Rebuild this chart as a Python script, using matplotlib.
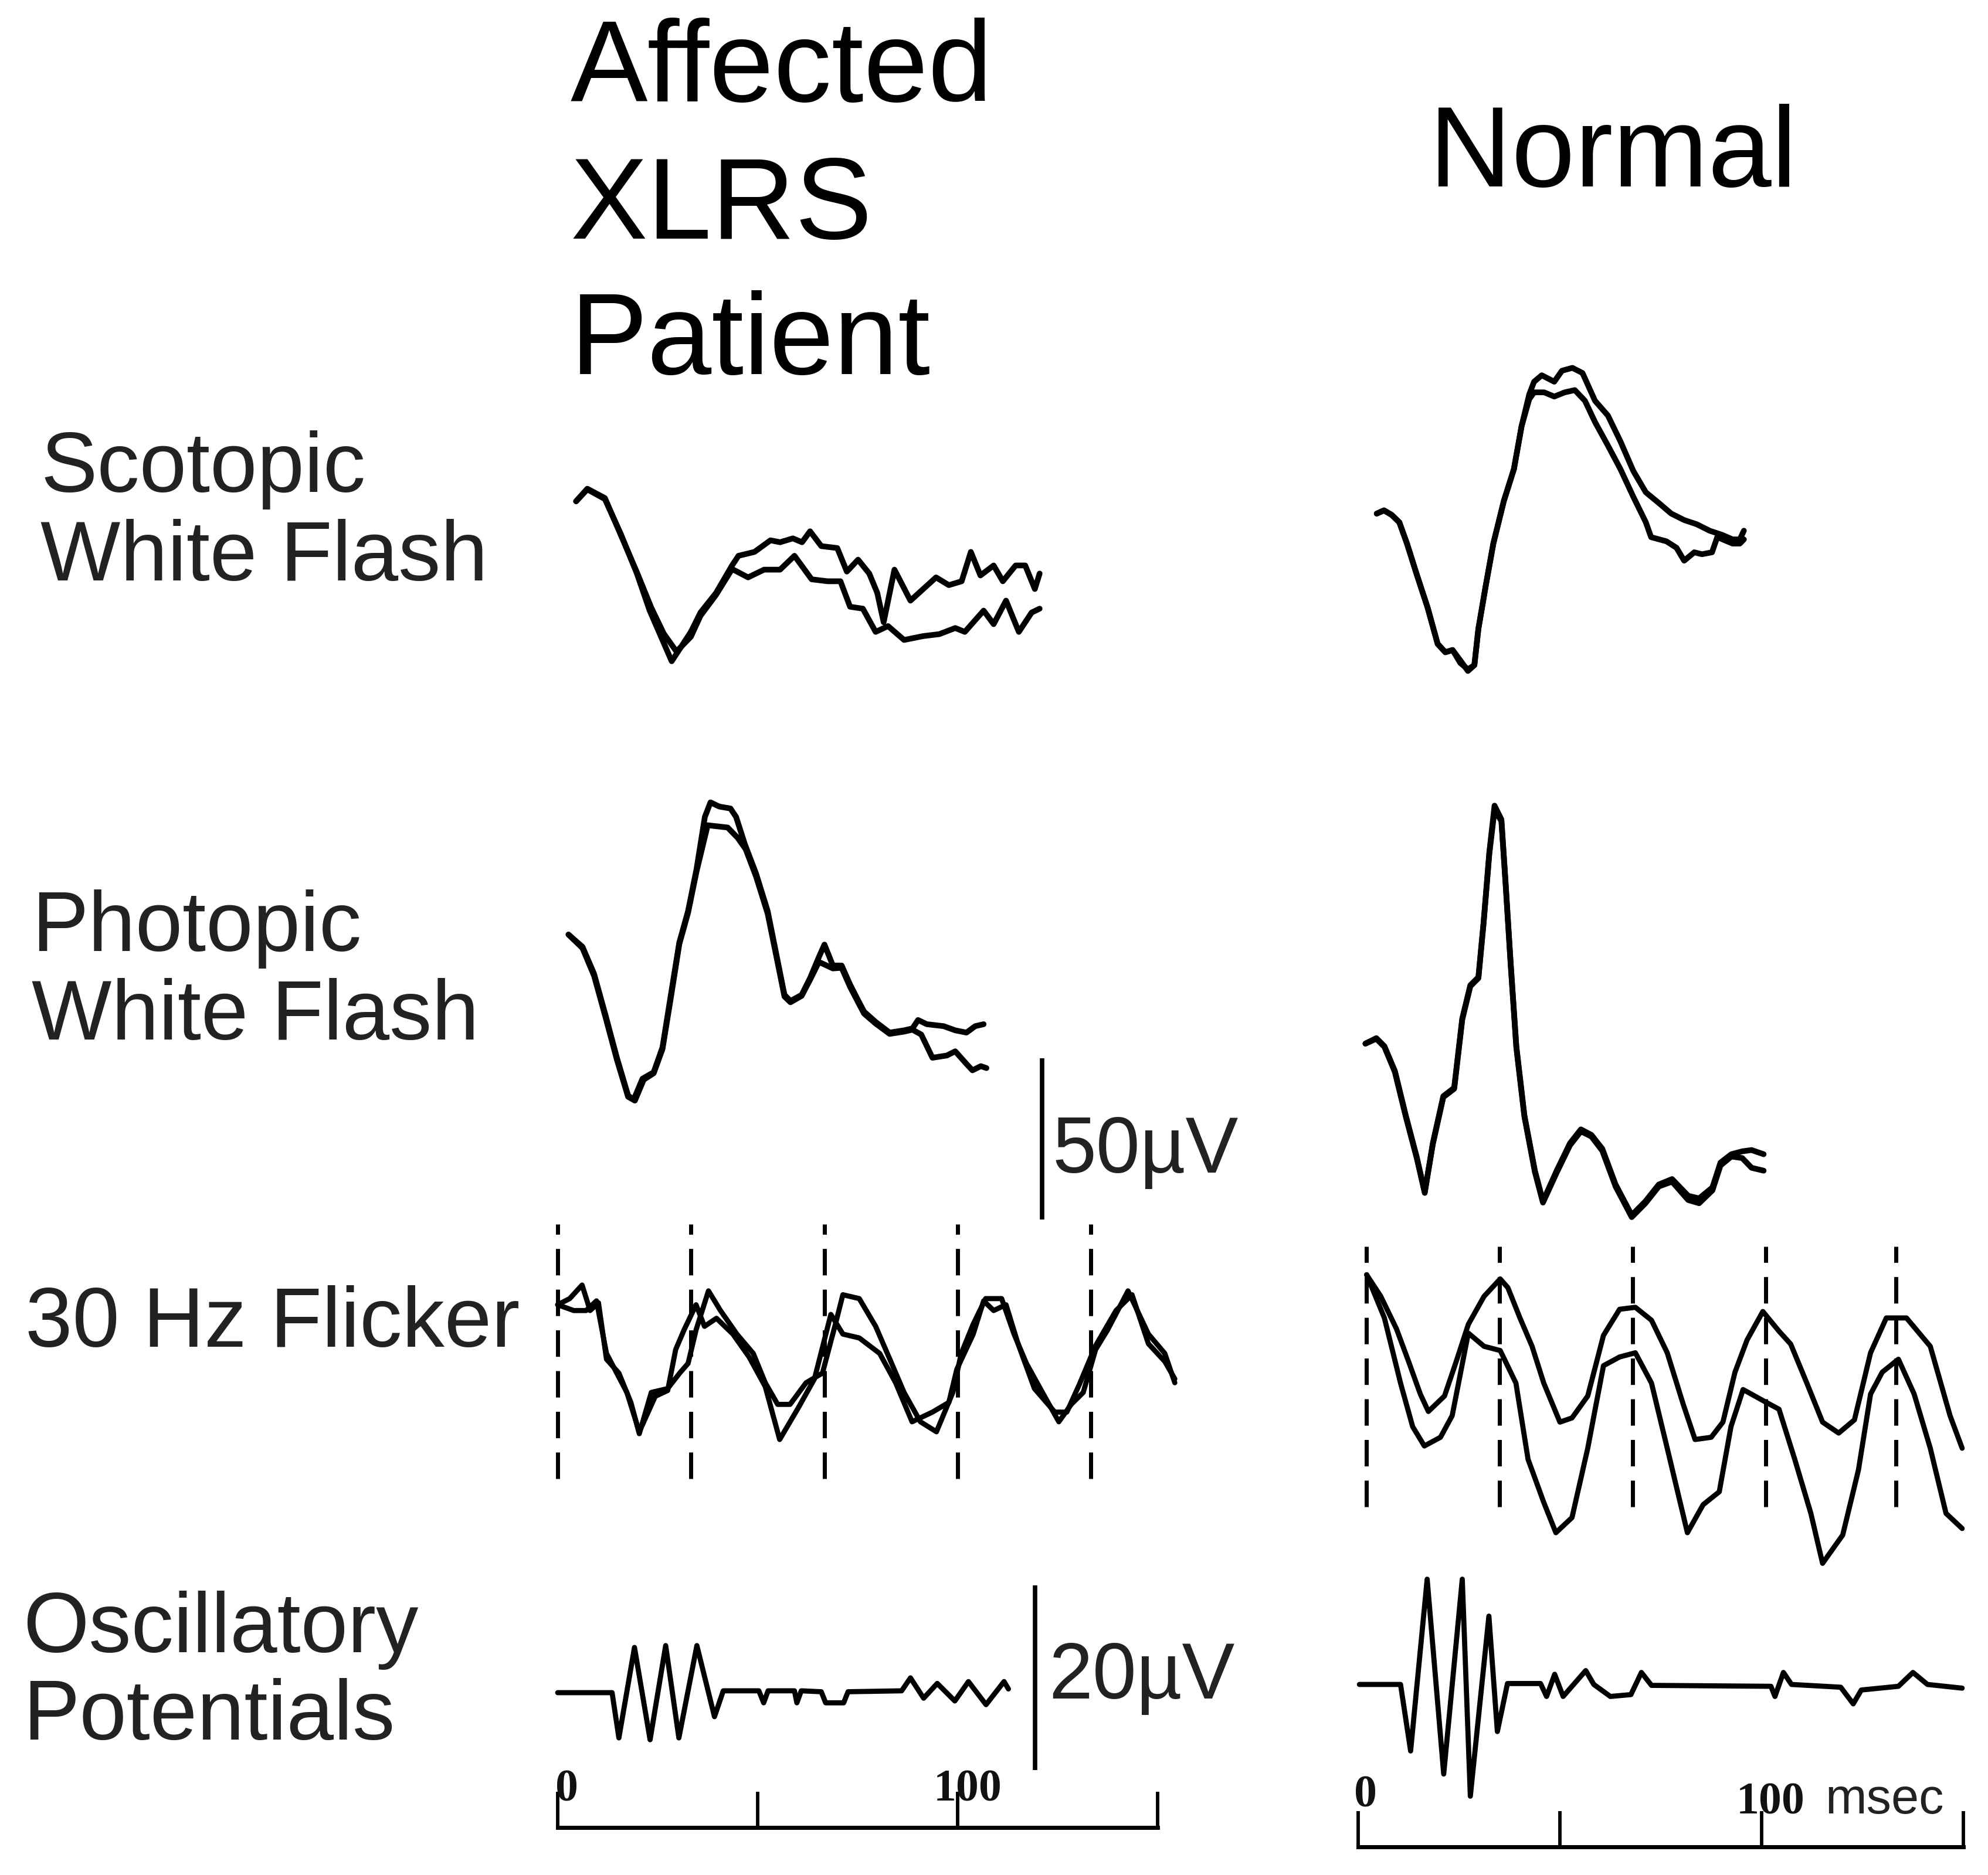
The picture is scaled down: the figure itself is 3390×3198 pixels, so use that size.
import matplotlib
matplotlib.use("Agg")
import matplotlib.pyplot as plt

# ---- data (time in ms, amplitude in microvolts) ----

# scotopic white flash, affected patient (two overlaid responses)
scot_aff_t1 = [4.6, 7.4, 11.8, 15.8, 19.8, 23.0, 28.5, 33.3, 35.7, 39.6, 43.6, 45.2, 49.2, 53.2, 55.6, 58.8, 61.1, 63.1, 65.9, 69.9,
               72.3, 75.1, 77.9, 79.9, 81.5, 84.2, 88.2, 91.4, 94.6, 97.8, 101.0, 103.3, 105.7, 109.0, 111.3, 114.5, 116.9, 119.3, 120.5]
scot_aff_v1 = [0, 3.7, 0.7, -10.2, -22.4, -33.9, -49.6, -40.5, -34.5, -28.4, -19.9, -16.9, -15.7, -12.1, -12.7, -11.5, -12.7, -9.3, -13.9, -14.5,
               -21.8, -18.1, -22.4, -28.4, -37.5, -21.2, -30.8, -27.2, -23.6, -26.0, -24.8, -15.7, -23.0, -19.9, -24.8, -19.9, -19.9, -27.2, -22.4]
scot_aff_t2 = [4.6, 7.4, 11.8, 15.8, 19.8, 23.4, 26.5, 29.7, 33.3, 35.7, 39.6, 43.6, 47.6, 51.6, 55.6, 59.2, 63.5, 67.5, 70.7, 73.1,
               76.3, 79.5, 82.6, 86.6, 91.4, 95.4, 99.4, 101.8, 106.5, 109.0, 112.1, 115.3, 118.5, 120.5]
scot_aff_v2 = [0, 3.9, 1.0, -10.5, -22.0, -33.0, -41.0, -46.6, -42.0, -35.5, -29.0, -21.0, -23.6, -21.2, -21.2, -16.9, -24.2, -24.8, -24.8, -32.7,
               -33.3, -40.5, -38.7, -43.0, -41.8, -41.2, -39.3, -40.5, -33.9, -38.1, -30.8, -40.5, -34.5, -33.3]

# scotopic white flash, normal
scot_nor_t1 = [4.6, 6.4, 8.3, 10.2, 12.1, 14.6, 17.2, 19.7, 21.6, 23.4, 25.3, 27.2, 28.8, 29.8, 31.6, 33.5, 36.1, 38.6, 40.5, 42.4,
               43.6, 45.5, 48.6, 50.5, 53.1, 55.6, 58.7, 61.9, 65.0, 68.2, 71.3, 74.5, 77.6, 80.8, 83.9, 87.1, 90.2, 92.8, 94.6, 95.6]
scot_nor_v1 = [0, 1.0, -0.4, -2.7, -9.3, -19.2, -29.1, -40.4, -43.0, -42.3, -46.3, -48.3, -47.0, -35.7, -22.5, -9.3, 3.9, 13.8, 27.1, 37.0,
               40.9, 42.9, 40.9, 44.3, 45.2, 43.6, 35.0, 30.4, 22.4, 13.2, 6.6, 3.3, 0.0, -2.0, -3.3, -5.3, -6.6, -8.0, -8.0, -5.3]
scot_nor_t2 = [4.6, 6.4, 8.3, 10.2, 12.1, 14.6, 17.2, 19.7, 21.6, 23.4, 25.3, 27.2, 28.8, 29.8, 31.6, 33.5, 36.1, 38.6, 40.5, 42.4,
               43.6, 46.1, 48.6, 51.2, 53.7, 56.2, 58.7, 61.9, 65.0, 68.2, 71.3, 72.6, 76.4, 78.9, 80.8, 83.3, 85.2, 87.7, 89.0, 92.8, 94.6, 95.6]
scot_nor_v2 = [0, 1.0, -0.4, -2.7, -9.3, -19.2, -29.1, -40.4, -43.0, -42.3, -45.5, -48.8, -47.0, -35.7, -22.5, -9.3, 3.9, 13.8, 27.1, 35.5,
               37.6, 37.6, 36.3, 37.6, 38.3, 35.0, 28.4, 21.1, 13.8, 5.2, -2.7, -7.3, -8.6, -10.6, -14.6, -12.0, -12.6, -12.0, -7.3, -9.3, -9.3, -8.0]

# photopic white flash, affected patient
phot_aff_t1 = [2.7, 6.2, 9.1, 12.0, 14.8, 17.6, 19.0, 21.2, 24.0, 26.2, 28.3, 30.4, 32.6, 34.7, 36.8, 38.2, 40.4, 43.2, 44.6, 46.8,
               49.6, 52.5, 54.6, 56.7, 58.2, 61.0, 63.1, 65.3, 66.7, 68.8, 71.0, 73.1, 75.2, 76.6, 79.5, 83.0, 86.6, 88.7, 90.1, 92.3,
               96.5, 99.4, 102.2, 104.4, 106.5]
phot_aff_v1 = [0, -3.8, -12.2, -25.2, -38.2, -49.9, -51.2, -44.7, -42.7, -35.0, -18.7, -2.5, 7.3, 20.2, 36.5, 41.0, 39.7, 39.1, 36.5, 28.0,
               18.9, 7.3, -5.7, -18.7, -20.6, -18.7, -13.5, -7.0, -3.1, -9.6, -9.6, -15.5, -20.6, -23.9, -27.1, -30.4, -29.7, -29.1, -26.5, -27.8,
               -28.4, -29.7, -30.4, -28.4, -27.8]
phot_aff_t2 = [2.7, 6.2, 9.1, 12.0, 14.8, 17.6, 19.3, 21.5, 24.0, 26.2, 28.3, 30.4, 32.6, 34.7, 37.5, 42.5, 45.0, 47.0, 49.6, 52.5,
               54.6, 56.7, 58.2, 61.0, 63.1, 65.3, 66.2, 68.8, 71.0, 73.1, 75.2, 76.6, 79.5, 83.0, 86.6, 88.7, 90.9, 93.7, 97.3, 99.4,
               102.2, 103.7, 105.8, 107.2]
phot_aff_v2 = [0, -4.2, -12.8, -25.8, -38.8, -50.3, -51.5, -45.0, -43.0, -35.5, -19.5, -3.0, 6.8, 19.5, 33.9, 33.2, 30.0, 26.5, 18.0, 6.5,
               -6.3, -19.2, -21.0, -19.0, -14.0, -8.5, -9.0, -10.5, -10.3, -16.2, -21.2, -24.5, -27.6, -30.8, -30.1, -29.5, -31.0, -38.2, -37.5, -36.2,
               -40.1, -42.1, -40.8, -41.4]

# photopic white flash, normal
phot_nor_t = [1.8, 4.5, 6.5, 9.1, 11.8, 14.5, 16.5, 18.5, 21.1, 23.8, 25.8, 27.8, 29.8, 31.1, 32.5, 33.8, 35.5, 36.5, 37.8, 39.2,
              41.2, 43.8, 45.8, 49.2, 52.5, 55.2, 57.8, 60.5, 63.8, 67.8, 71.2, 74.5, 77.8, 81.8, 84.5, 87.8, 89.8, 92.5, 95.2, 97.5, 100.5]
phot_nor_v1 = [0, 1.7, -0.8, -8.5, -22.3, -35.1, -46.3, -30.9, -16.3, -13.7, 7.8, 18.1, 20.6, 37.8, 59.2, 73.8, 69.5, 50.7, 24.9, -0.8,
               -22.3, -39.4, -48.9, -39.4, -30.9, -26.6, -28.3, -32.6, -43.7, -53.2, -48.9, -43.7, -42.0, -47.2, -48.0, -44.6, -36.9, -34.3, -33.4, -33.0, -34.3]
phot_nor_v2 = [0, 1.5, -1.0, -8.8, -22.6, -35.4, -46.0, -31.2, -16.6, -14.0, 7.5, 17.8, 20.3, 37.5, 58.8, 72.5, 69.0, 50.2, 24.5, -1.2,
               -22.6, -39.8, -49.3, -40.0, -31.5, -27.2, -28.8, -33.2, -44.3, -53.8, -49.5, -44.3, -42.8, -48.5, -49.5, -45.5, -37.8, -35.0, -35.5, -38.5, -39.4]

# 30 Hz flicker, affected patient
flk_aff_t1 = [0, 3.0, 6.1, 8.1, 10.2, 12.2, 15.3, 18.3, 20.4, 23.4, 27.5, 30.5, 32.6, 34.6, 37.7, 40.7, 44.8, 48.9, 51.9, 55.0,
              58.1, 62.1, 66.2, 69.3, 71.3, 75.4, 79.5, 83.5, 86.6, 90.7, 94.7, 98.8, 100.9, 103.9, 107.0, 111.0, 114.1, 117.2, 121.2, 125.3,
              128.4, 131.4, 134.5, 137.5, 142.6, 147.7, 151.8, 154.3]
flk_aff_v1 = [10.3, 12.2, 16.4, 8.5, 10.9, -6.6, -10.9, -20.0, -29.7, -16.9, -15.7, -10.9, -7.9, 2.5, 14.6, 8.5, 1.2, -4.8, -13.9, -20.6,
              -20.6, -13.9, -10.9, 3.6, 13.4, 12.2, 3.6, -7.9, -16.9, -26.0, -29.1, -16.9, -4.8, 4.3, 12.2, 12.2, 1.2, -7.9, -16.9, -26.0,
              -20.6, -16.9, -3.6, 2.5, 14.6, 1.2, -4.8, -13.9]
flk_aff_t2 = [0, 4.0, 7.1, 9.7, 12.2, 17.3, 20.4, 24.4, 27.5, 29.5, 31.6, 34.6, 36.7, 39.7, 43.8, 47.9, 51.9, 55.5, 60.1, 64.2,
              68.3, 71.3, 75.4, 80.5, 84.5, 88.6, 93.7, 97.8, 99.8, 103.9, 106.5, 109.0, 112.1, 115.1, 119.2, 124.3, 127.3, 130.4, 134.5, 139.6,
              143.6, 147.7, 151.8, 154.3]
flk_aff_v2 = [10.3, 8.5, 8.5, 11.5, -4.8, -16.9, -29.1, -18.1, -16.3, -3.6, 2.5, 10.3, 3.6, 6.1, 1.2, -6.0, -15.1, -31.5, -21.8, -12.7,
              7.3, 1.2, 0.0, -4.8, -13.9, -26.0, -23.0, -20.0, -9.7, 1.2, 11.5, 8.5, 10.3, -1.8, -15.7, -23.0, -23.0, -14.5, -2.4, 8.5,
              13.4, -1.8, -7.3, -12.7]
flk_aff_stim = [0, 33.3, 66.7, 100, 133.3]

# 30 Hz flicker, normal
flk_nor_t1 = [2.1, 5.6, 9.5, 12.5, 15.4, 17.4, 21.4, 24.3, 27.3, 31.2, 35.2, 37.1, 40.1, 43.1, 46.0, 50.0, 53.0, 56.9, 60.8, 64.8,
              68.7, 72.7, 76.6, 80.6, 83.5, 87.5, 90.4, 93.4, 96.4, 100.3, 104.3, 107.2, 111.2, 115.1, 119.1, 123.0, 127.0, 130.9, 135.9, 141.8,
              146.7, 149.7]
flk_nor_v1 = [33.6, 26.9, 16.8, 6.7, -3.4, -8.8, -4.0, 6.7, 18.2, 26.9, 32.3, 29.6, 20.2, 11.4, 0.0, -12.1, -10.8, -4.0, 14.8, 22.9,
              23.5, 19.5, 9.4, -6.7, -17.5, -16.8, -12.1, 3.4, 13.4, 22.2, 16.1, 12.1, 0.0, -12.1, -15.5, -11.4, 9.4, 20.2, 20.2, 11.4,
              -10.1, -20.2]
flk_nor_t2 = [2.1, 6.5, 10.5, 13.5, 16.4, 20.4, 23.3, 27.3, 31.2, 35.2, 39.1, 42.1, 46.0, 49.0, 53.0, 56.9, 60.8, 64.8, 68.7, 72.7,
              76.6, 81.6, 85.5, 89.5, 92.4, 95.4, 100.3, 104.3, 108.2, 112.2, 115.1, 120.1, 124.0, 127.0, 129.9, 133.9, 137.8, 141.8, 145.7, 149.7]
flk_nor_v2 = [33.6, 20.2, 0.0, -13.5, -19.5, -16.8, -10.1, 15.5, 11.4, 10.1, 0.0, -23.6, -37.0, -46.4, -41.7, -20.2, 5.4, 8.1, 9.4, 0.0,
              -20.2, -46.4, -37.7, -33.7, -13.5, -2.0, -5.4, -8.1, -23.6, -40.4, -55.9, -47.1, -26.9, -3.4, 3.4, 7.4, -3.4, -20.2, -40.4, -45.1]
flk_nor_stim = [2, 35, 68, 101, 133.3]

# oscillatory potentials
op_aff_t = [0, 13.6, 15.3, 19.2, 23.1, 27.0, 30.3, 34.8, 39.2, 41.4, 50.3, 51.5, 52.6, 59.2, 59.8, 60.9, 65.9, 67.0, 71.5, 72.6,
            86.0, 88.2, 91.5, 94.9, 99.3, 102.7, 107.1, 111.6, 112.7]
op_aff_v = [0, 0, -4.9, 4.9, -5.1, 5.1, -4.9, 5.1, -2.6, 0.2, 0.2, -1.1, 0.2, 0.2, -1.1, 0.2, 0.1, -1.1, -1.1, 0.1,
            0.2, 1.6, -0.6, 1.0, -0.9, 1.2, -1.3, 1.2, 0.4]
op_nor_t = [0.3, 10.5, 13.0, 17.1, 21.2, 25.8, 27.8, 32.4, 34.5, 37.0, 45.2, 46.7, 48.7, 50.8, 56.4, 58.4, 62.5, 67.6, 70.2, 72.7,
            102.3, 103.3, 105.4, 107.4, 119.6, 122.7, 124.7, 133.9, 137.5, 141.1, 149.7]
op_nor_v = [0, 0, -7.2, 11.4, -9.7, 11.4, -12.1, 7.4, -5.1, 0.1, 0.1, -1.3, 1.1, -1.3, 1.5, 0, -1.3, -1.1, 1.3, -0.1,
            -0.2, -1.3, 1.3, 0, -0.3, -2.1, -0.6, -0.2, 1.3, 0, -0.4]

erg_scale_uv = 50
op_scale_uv = 20
time_ticks = [0, 50, 100, 150]

column_titles = ["Affected\nXLRS\nPatient", "Normal"]
row_labels = [["Scotopic", "White Flash"], ["Photopic", "White Flash"], ["30 Hz Flicker"], ["Oscillatory", "Potentials"]]

# ---- layout (figure pixels) ----
W, H = 3391, 3198
DPI = 100
LW = 7.0

plt.rcParams['font.family'] = ['Liberation Sans', 'DejaVu Sans']

fig = plt.figure(figsize=(W / DPI, H / DPI), dpi=DPI)
fig.patch.set_facecolor('white')


def panel(x0, y0, ms_px, uv_px, t_lim=(-10, 160), v_lim=(-60, 80)):
    # axes whose t=0 / v=0 land on pixel (x0, y0)
    left = (x0 + t_lim[0] * ms_px) / W
    bottom = 1 - (y0 - v_lim[0] * uv_px) / H
    ax = fig.add_axes([left, bottom, (t_lim[1] - t_lim[0]) * ms_px / W,
                       (v_lim[1] - v_lim[0]) * uv_px / H])
    ax.set_xlim(*t_lim)
    ax.set_ylim(*v_lim)
    ax.axis('off')
    return ax


def trace(ax, t, v, lw=LW):
    ax.plot(t, v, color='black', lw=lw, clip_on=False,
            solid_joinstyle='round', solid_capstyle='round')


def ftext(x, y, s, **kw):
    fig.text(x / W, 1 - y / H, s, va='baseline', **kw)


L_X0, R_X0 = 951, 2316
L_MS, R_MS = 6.82, 6.88
ERG_UV = 5.5
OP_UV = 15.75

ax = panel(L_X0, 855, L_MS, ERG_UV)
trace(ax, scot_aff_t1, scot_aff_v1)
trace(ax, scot_aff_t2, scot_aff_v2)

ax = panel(R_X0, 876, R_MS, ERG_UV)
trace(ax, scot_nor_t1, scot_nor_v1)
trace(ax, scot_nor_t2, scot_nor_v2)

ax = panel(L_X0, 1594, L_MS, ERG_UV)
trace(ax, phot_aff_t1, phot_aff_v1)
trace(ax, phot_aff_t2, phot_aff_v2)
# 50 uV calibration bar
ax.vlines(121.1, -88.4, -88.4 + erg_scale_uv, color='black', lw=5.5, clip_on=False)

ax = panel(R_X0, 1780, R_MS, ERG_UV)
trace(ax, phot_nor_t, phot_nor_v1)
trace(ax, phot_nor_t, phot_nor_v2)

ax = panel(L_X0, 2282, L_MS, ERG_UV)
ax.vlines(flk_aff_stim, -43.6, 35.3, color='black', lw=5, linestyles=(0, (6.5, 3.5)), clip_on=False)
trace(ax, flk_aff_t1, flk_aff_v1, lw=6.3)
trace(ax, flk_aff_t2, flk_aff_v2, lw=6.3)

ax = panel(R_X0, 2359, R_MS, ERG_UV)
ax.vlines(flk_nor_stim, -38.4, 42.4, color='black', lw=5, linestyles=(0, (6.5, 3.5)), clip_on=False)
trace(ax, flk_nor_t1, flk_nor_v1, lw=6.3)
trace(ax, flk_nor_t2, flk_nor_v2, lw=6.3)

ax = panel(L_X0, 2887, L_MS, OP_UV, v_lim=(-15, 15))
trace(ax, op_aff_t, op_aff_v, lw=6.3)
# 20 uV calibration bar
ax.vlines(119.4, -8.4, -8.4 + op_scale_uv, color='black', lw=5.5, clip_on=False)

ax = panel(R_X0, 2873, R_MS, OP_UV, v_lim=(-15, 15))
trace(ax, op_nor_t, op_nor_v, lw=6.3)


def time_axis(x0, y_base, ms_px):
    ax = fig.add_axes([x0 / W, 1 - y_base / H, 150 * ms_px / W, 60 / H])
    ax.set_xlim(0, 150)
    ax.set_ylim(0, 1)
    for s in ('top', 'left', 'right'):
        ax.spines[s].set_visible(False)
    ax.spines['bottom'].set_linewidth(5)
    ax.set_xticks(time_ticks)
    ax.set_yticks([])
    ax.tick_params(axis='x', direction='in', length=44, width=4.2, labelbottom=False)
    ax.patch.set_visible(False)
    return ax


time_axis(L_X0, 3117, L_MS)
time_axis(R_X0, 3150, R_MS)

num = dict(family='Liberation Serif', fontsize=56, fontweight='bold', color='#111111')
ftext(967, 3071, str(time_ticks[0]), ha='center', **num)
ftext(1650, 3071, str(time_ticks[2]), ha='center', **num)
ftext(2329, 3082, str(time_ticks[0]), ha='center', **num)
ftext(3019, 3093, str(time_ticks[2]), ha='center', **num)
ftext(3112, 3093, "msec", ha='left', fontsize=61, color='#222222')

# titles and labels
title_lines = column_titles[0].split("\n")
for line, yb in zip(title_lines, [173, 407, 638]):
    ftext(973, yb, line, fontsize=142, color='black')
ftext(2437, 318, column_titles[1], fontsize=140, color='black')

label_pos = [[(69, 839), (69, 990)], [(54, 1622), (54, 1773)], [(43, 2297)], [(39, 2818), (39, 2967)]]
for lines, pos in zip(row_labels, label_pos):
    for s, (x, y) in zip(lines, pos):
        ftext(x, y, s, fontsize=104, color='#222222')

ftext(1795, 2000, f"{erg_scale_uv}\u00b5V", fontsize=97, color='#222222')
ftext(1788, 2897, f"{op_scale_uv}\u00b5V", fontsize=97, color='#222222')

fig.savefig("out.png", dpi=DPI, facecolor='white')
